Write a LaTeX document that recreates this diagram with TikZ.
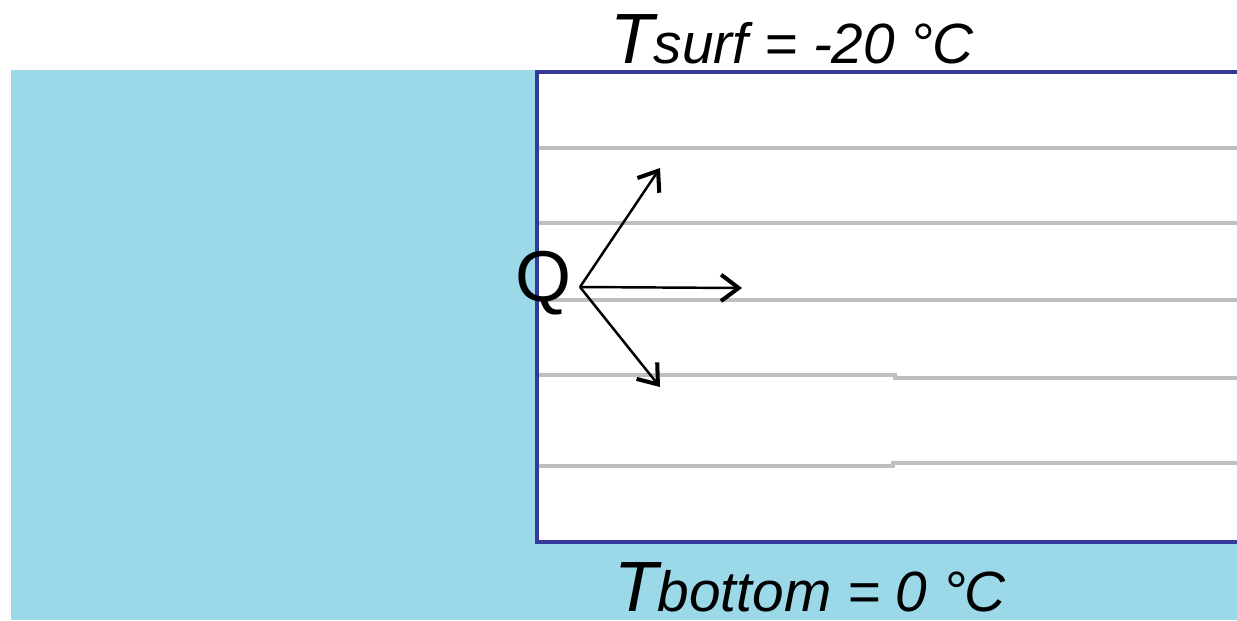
\documentclass[tikz,border=0pt]{standalone}
\usepackage{fontspec}
\setmainfont{Liberation Sans}
\usepackage{tikz}
\usetikzlibrary{arrows.meta}

\definecolor{mar}{HTML}{9BD9E9}
\definecolor{borde}{HTML}{333A9C}
\definecolor{capa}{HTML}{BFBFBF}

\begin{document}
\begin{tikzpicture}[
    x=0.02cm, y=-0.02cm,
    flujo/.style={-{Straight Barb[length=10pt, width=15pt, line width=2.3pt]}, line width=1.4pt},
    linea/.style={capa, line width=1.8pt},
    etiq/.style={inner sep=0pt, anchor=base west, font=\itshape},
]
\useasboundingbox (0,0) rectangle (1237,620);

%% Agua y bloque de hielo
\fill[mar]   (11,70) rectangle (1237,620);
\fill[white] (537,72) rectangle (1237,542);

%% Capas
\foreach \yy in {148, 223, 300}
    \draw[linea] (537,\yy) -- (1237,\yy);
\draw[linea] (537,375) -- (895,375) -- (895,378) -- (1237,378);
\draw[linea] (537,466) -- (893,466) -- (893,463) -- (1237,463);

%% Borde del hielo
\draw[borde, line width=2.8pt] (1237,72) -| (537,542) -- (1237,542);

%% Flujo de calor
\node[inner sep=0pt, anchor=base west, font=\fontsize{41}{41}\selectfont]
    at (515,301) (q) {Q};
\coordinate (src) at (580,287);
\coordinate (arr) at (660,168);
\coordinate (der) at (742,288);
\coordinate (aba) at (660,387);
\draw[flujo] (src) -- (arr);
\draw[flujo] (src) -- (der);
\draw[flujo] (src) -- (aba);

%% Temperaturas
\node[etiq] at (610,63) (tsurf)
    {{\fontsize{40.5}{41}\selectfont T}{\fontsize{32.3}{33}\selectfont surf = -20 °\kern-0.02em C}};
\node[etiq] at (614,611) (tbottom)
    {{\fontsize{40.5}{41}\selectfont T}{\fontsize{32.3}{33}\selectfont bottom = 0 °\kern-0.02em C}};
\end{tikzpicture}
\end{document}
